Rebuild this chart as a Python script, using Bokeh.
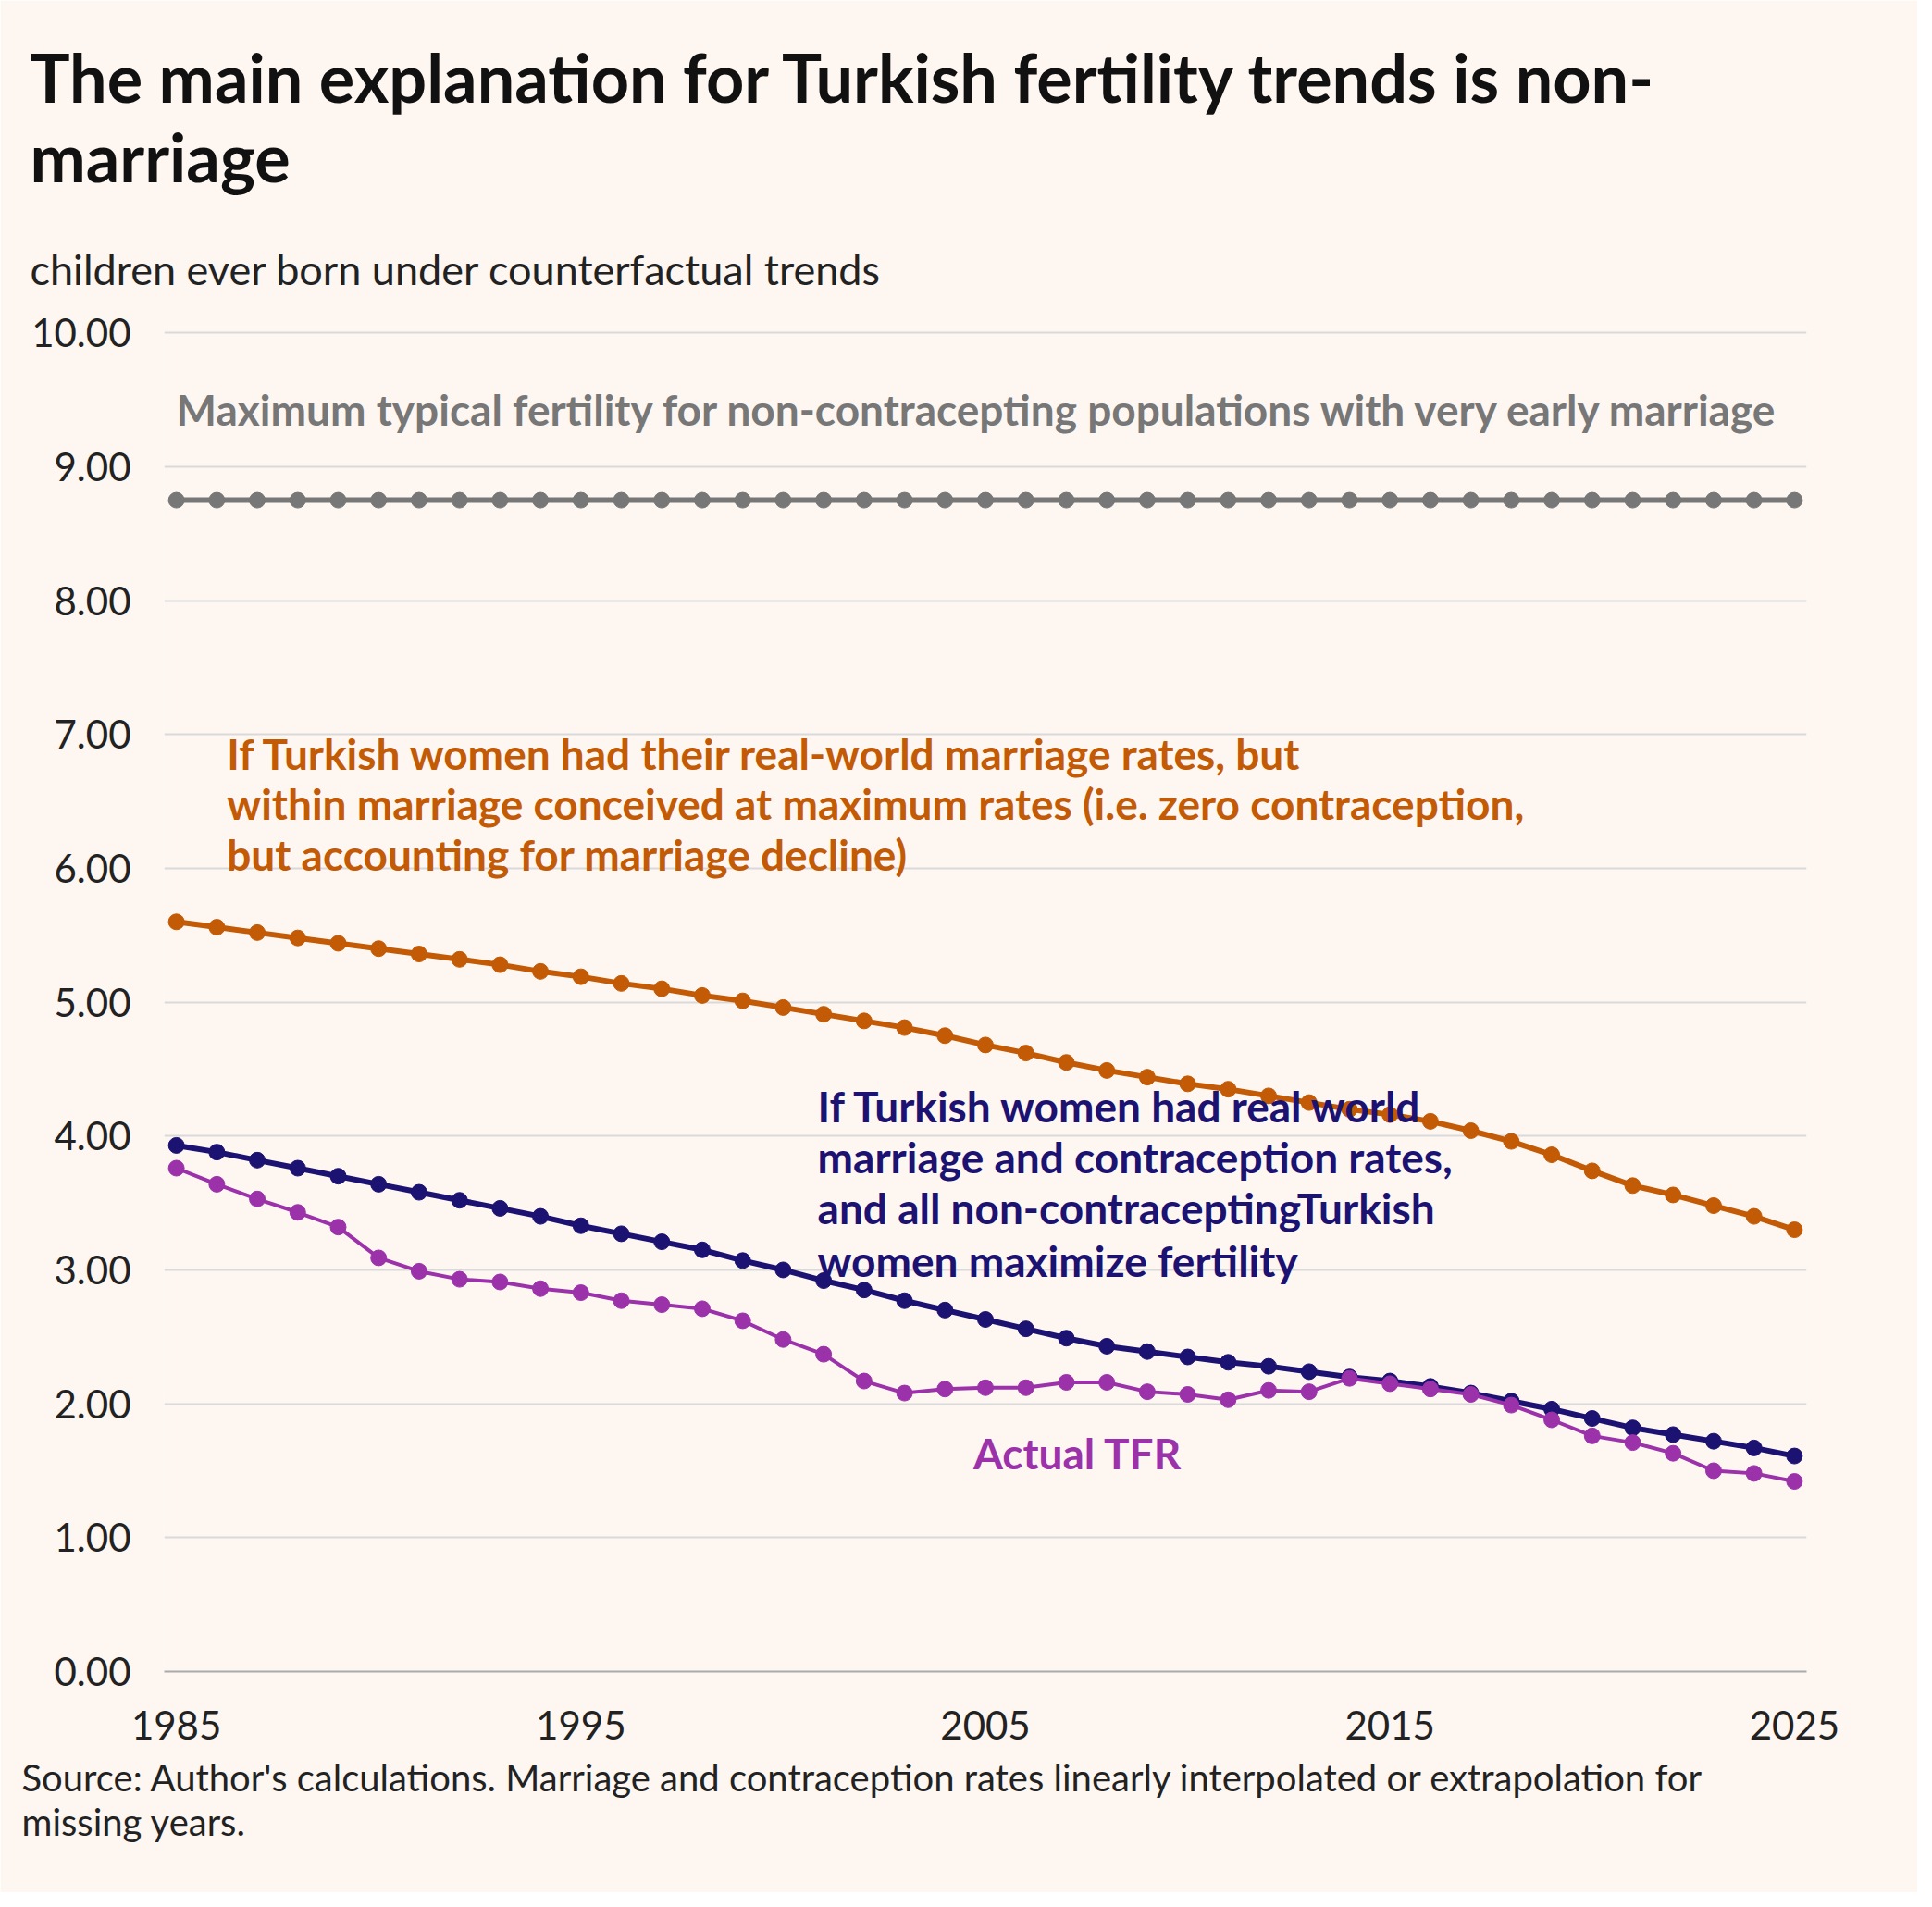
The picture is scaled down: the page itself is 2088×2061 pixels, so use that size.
from bokeh.plotting import figure
from bokeh.models import Title, FixedTicker, NumeralTickFormatter, Range1d
from bokeh.core.properties import value
from bokeh.embed import file_html
from bokeh.resources import INLINE

years = list(range(1985, 2026))
max_fert = [8.75] * len(years)
orange = [5.60,5.56,5.52,5.48,5.44,5.40,5.36,5.32,5.28,5.23,5.19,5.14,5.10,5.05,5.01,4.96,4.91,4.86,4.81,4.75,4.68,
          4.62,4.55,4.49,4.44,4.39,4.35,4.30,4.25,4.20,4.16,4.11,4.04,3.96,3.86,3.74,3.63,3.56,3.48,3.40,3.30]
navy = [3.93,3.88,3.82,3.76,3.70,3.64,3.58,3.52,3.46,3.40,3.33,3.27,3.21,3.15,3.07,3.00,2.92,2.85,2.77,2.70,2.63,
        2.56,2.49,2.43,2.39,2.35,2.31,2.28,2.24,2.20,2.17,2.13,2.08,2.02,1.96,1.89,1.82,1.77,1.72,1.67,1.61]
tfr = [3.76,3.64,3.53,3.43,3.32,3.09,2.99,2.93,2.91,2.86,2.83,2.77,2.74,2.71,2.62,2.48,2.37,2.17,2.08,2.11,2.12,
       2.12,2.16,2.16,2.09,2.07,2.03,2.10,2.09,2.19,2.15,2.11,2.07,1.99,1.88,1.76,1.71,1.63,1.50,1.48,1.42]
x_ticks = [1985, 1995, 2005, 2015, 2025]
y_ticks = list(range(0, 11))

BG = "#FDF6F1"
GRAY, ORANGE, NAVY, PURPLE = "#777777", "#C35A05", "#1B1272", "#9B32AA"
FONT = "Lato"

p = figure(width=2072, height=2045, output_backend="svg", toolbar_location=None,
           x_range=Range1d(1984.7, 2025.3), y_range=Range1d(0, 10.05),
           background_fill_color=BG, border_fill_color=BG, outline_line_color=None,
           min_border_left=177, min_border_right=120, min_border_top=352, min_border_bottom=239)
p.title = None

for ys, c in [(max_fert, GRAY), (orange, ORANGE), (navy, NAVY), (tfr, PURPLE)]:
    w = 4 if c == PURPLE else 6
    p.line(years, ys, line_color=c, line_width=w)
    p.scatter(years, ys, size=17, fill_color=c, line_color=c)

def label(x, ys, lines, color):
    p.text(x=[x] * len(lines), y=ys, text=lines, text_color=color, text_font=value(FONT),
           text_font_style="bold", text_font_size="46px", text_baseline="middle", text_align="left")

label(1985, [9.43], ["Maximum typical fertility for non-contracepting populations with very early marriage"], GRAY)
label(1986.25, [6.86, 6.48, 6.10], ["If Turkish women had their real-world marriage rates, but",
      "within marriage conceived at maximum rates (i.e. zero contraception,",
      "but accounting for marriage decline)"], ORANGE)
label(2000.85, [4.22, 3.84, 3.46, 3.07], ["If Turkish women had real world",
      "marriage and contraception rates,", "and all non-contraceptingTurkish",
      "women maximize fertility"], NAVY)
label(2004.7, [1.63], ["Actual TFR"], PURPLE)

p.xgrid.grid_line_color = None
p.ygrid.grid_line_color = "#D9D9D9"
p.ygrid.grid_line_width = 2
p.yaxis.ticker = FixedTicker(ticks=y_ticks)
p.yaxis.formatter = NumeralTickFormatter(format="0.00")
p.xaxis.ticker = FixedTicker(ticks=x_ticks)
for ax in (p.xaxis[0], p.yaxis[0]):
    ax.major_tick_line_color = None
    ax.minor_tick_line_color = None
    ax.major_label_text_font = FONT
    ax.major_label_text_font_size = "42px"
    ax.major_label_text_color = "#222222"
p.yaxis.axis_line_color = None
p.yaxis.major_label_standoff = 30
p.xaxis.axis_line_color = "#AAAAAA"
p.xaxis.axis_line_width = 2
p.xaxis.major_label_standoff = 36

p.add_layout(Title(text="children ever born under counterfactual trends", text_font=FONT,
                   text_font_size="45px", text_font_style="normal", text_color="#222222",
                   align="left", offset=-145, standoff=70), "above")
p.add_layout(Title(text="The main explanation for Turkish fertility trends is non-\nmarriage", text_font=FONT,
                   text_font_size="72px", text_font_style="bold", text_color="#111111",
                   align="left", offset=-145, standoff=30), "above")
p.add_layout(Title(text="Source: Author's calculations. Marriage and contraception rates linearly interpolated or extrapolation for\nmissing years.",
                   text_font=FONT, text_font_size="40px", text_font_style="normal", text_color="#222222",
                   align="left", offset=-154, standoff=25), "below")

open("out.html", "w").write(file_html(p, INLINE))
